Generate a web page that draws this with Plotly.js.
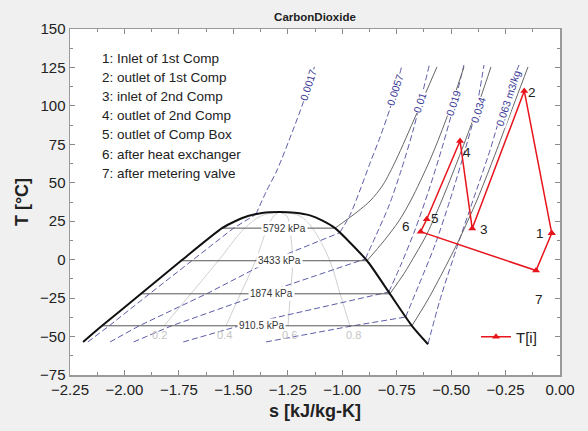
<!DOCTYPE html>
<html><head><meta charset="utf-8">
<script src="https://cdn.plot.ly/plotly-3.0.1.min.js"></script>
<style>html,body{margin:0;padding:0;background:#f0f0f0;}#chart{width:588px;height:431px;}</style>
</head><body><div id="chart"></div>
<script>
// ---- saturation dome ----
const domeS = [-2.190,-2.103,-1.924,-1.740,-1.552,-1.492,-1.433,-1.368,-1.290,-1.217,-1.148,-1.093,-1.033,-0.886,-0.781,-0.680,-0.606];
const domeT = [-53.5,-43.0,-22.2,-0.7,20.5,25.0,28.4,30.4,31.0,30.5,28.8,25.6,20.5,-0.7,-22.2,-43.0,-55.0];
// ---- isobars ----
const isobarNames = ['5792 kPa','3433 kPa','1874 kPa','910.5 kPa'];
const satT  = [20.5,-0.7,-22.2,-43.0];
const satSl = [-1.552,-1.740,-1.924,-2.103];
const satSv = [-1.033,-0.886,-0.781,-0.680];
const isobarLabelS = [-1.267,-1.290,-1.327,-1.370];
const p5792S = [-1.033,-0.987,-0.932,-0.872,-0.813,-0.753,-0.661,-0.565];
const p5792T = [20.5,25.2,31.0,38.2,48.6,64.8,94.1,125.3];
const p3433S = [-0.886,-0.808,-0.739,-0.684,-0.597,-0.524,-0.441];
const p3433T = [-0.7,12.3,25.3,38.8,64.8,90.8,125.3];
const p1874S = [-0.781,-0.717,-0.662,-0.611,-0.542,-0.469,-0.400,-0.317];
const p1874T = [-22.2,-9.2,3.8,16.7,38.8,64.8,90.8,125.3];
const p910S  = [-0.680,-0.607,-0.533,-0.464,-0.381,-0.308,-0.239,-0.147];
const p910T  = [-43.0,-26.1,-6.6,12.8,38.8,64.8,90.8,125.3];
// ---- isochores (m3/kg) ----
const isochoreNames = ['0.0017','0.0057','0.01','0.019','0.034','0.063 m3/kg'];
const v0017S = [-2.168,-2.070,-1.883,-1.688,-1.499,-1.396,-1.350,-1.299,-1.226,-1.180,-1.125];
const v0017T = [-53.5,-43.0,-22.0,-0.6,20.5,29.5,44.0,58.3,84.3,101.9,126.6];
const v0057S = [-2.066,-1.932,-1.620,-1.328,-1.012,-0.964,-0.918,-0.872,-0.826,-0.780,-0.725];
const v0057T = [-53.5,-43.0,-22.0,-0.6,17.5,29.1,45.3,62.9,79.8,98.6,126.6];
const v001S  = [-1.958,-1.783,-1.364,-0.894,-0.844,-0.784,-0.729,-0.674,-0.628,-0.600];
const v001T  = [-53.5,-43.0,-22.0,0.5,16.1,35.6,58.3,84.3,110.3,126.6];
const v0019S = [-1.730,-1.471,-0.786,-0.731,-0.666,-0.602,-0.538,-0.487,-0.441];
const v0019T = [-53.5,-43.0,-21.0,-3.5,19.3,45.3,74.5,100.5,126.6];
const v0034S = [-1.350,-0.951,-0.709,-0.648,-0.574,-0.505,-0.436,-0.386,-0.349];
const v0034T = [-53.5,-43.0,-37.3,-16.4,9.6,38.8,71.3,97.3,126.6];
const v0063S = [-0.606,-0.551,-0.477,-0.399,-0.321,-0.252,-0.188];
const v0063T = [-54.8,-26.1,6.4,38.8,71.3,103.8,126.6];
const isochoreKink = [5,4,3,2,2,0];
const isochoreLabelS = [-1.157,-0.758,-0.643,-0.490,-0.376,-0.238];
const isochoreLabelT = [113.6,110.3,102.5,101.9,97.3,105.1];
// ---- quality lines ----
const qualityNames = ['0.2','0.4','0.6','0.8'];
const qualityT = [-43.0,-22.2,-0.7,20.5,28.4,31.0];
const q02S = [-1.818,-1.695,-1.569,-1.448,-1.373,-1.290];
const q04S = [-1.534,-1.467,-1.398,-1.344,-1.314,-1.290];
const q06S = [-1.249,-1.238,-1.228,-1.241,-1.254,-1.290];
const q08S = [-0.965,-1.010,-1.057,-1.137,-1.195,-1.290];
const qualityLabelS = [-1.837,-1.539,-1.240,-0.950];
const qualityLabelT = -49.0;
// ---- cycle T[i] ----
const cycleS = [-0.038,-0.164,-0.403,-0.459,-0.612,-0.640,-0.110,-0.038];
const cycleT = [17.2,109.7,20.2,77.2,26.3,18.2,-7.1,17.2];
const pointLabels = ['1','2','3','4','5','6','7'];
const pointLabelS = [-0.092,-0.127,-0.349,-0.425,-0.574,-0.709,-0.096];
const pointLabelT = [16.7,109.0,19.3,70.0,27.0,21.3,-25.6];
const stateNotes = ['1: Inlet of 1st Comp','2: outlet of 1st Comp','3: inlet of 2nd Comp','4: outlet of 2nd Comp','5: outlet of Comp Box','6: after heat exchanger','7: after metering valve'];

const FONT = 'Liberation Sans, Arial, sans-serif';
const traces = [];
const qS = [q02S,q04S,q06S,q08S];
qS.forEach(s => traces.push({x:s, y:qualityT, mode:'lines', line:{color:'#d0d0d0', width:1, shape:'spline'}, showlegend:false, hoverinfo:'skip'}));

const vS = [v0017S,v0057S,v001S,v0019S,v0034S,v0063S];
const vT = [v0017T,v0057T,v001T,v0019T,v0034T,v0063T];
const isoColor = '#5c5ca8';
vS.forEach((s,i) => {
  const k = isochoreKink[i];
  if (k > 0) traces.push({x:s.slice(0,k+1), y:vT[i].slice(0,k+1), mode:'lines', line:{color:isoColor, width:1, dash:'6px,3px'}, showlegend:false, hoverinfo:'skip'});
  traces.push({x:s.slice(k), y:vT[i].slice(k), mode:'lines', line:{color:isoColor, width:1, dash:'6px,3px', shape:'spline', smoothing:0.8}, showlegend:false, hoverinfo:'skip'});
});

// horizontal two-phase isobar segments
const hx = [], hy = [];
satT.forEach((t,i) => { hx.push(satSl[i], satSv[i], null); hy.push(t, t, null); });
traces.push({x:hx, y:hy, mode:'lines', line:{color:'#555555', width:1}, showlegend:false, hoverinfo:'skip'});
[[p5792S,p5792T],[p3433S,p3433T],[p1874S,p1874T],[p910S,p910T]].forEach(p =>
  traces.push({x:p[0], y:p[1], mode:'lines', line:{color:'#666666', width:1, shape:'spline', smoothing:0.8}, showlegend:false, hoverinfo:'skip'}));

traces.push({x:domeS, y:domeT, mode:'lines', line:{color:'#111111', width:2, shape:'spline', smoothing:0.6}, showlegend:false, hoverinfo:'skip'});

traces.push({x:cycleS, y:cycleT, mode:'lines+markers', name:'T[i]',
  line:{color:'#e8141c', width:1.5}, marker:{symbol:'triangle-up', size:7, color:'#e8141c'}, showlegend:true});

const ann = [];
isobarNames.forEach((n,i) => ann.push({x:isobarLabelS[i], y:satT[i], text:n, showarrow:false, bgcolor:'#ffffff', borderpad:1,
  font:{family:FONT, size:10, color:'#333333'}}));
isochoreNames.forEach((n,i) => ann.push({x:isochoreLabelS[i], y:isochoreLabelT[i], text:n, showarrow:false, bgcolor:'#ffffff', borderpad:0,
  textangle:-72, font:{family:FONT, size:10.5, color:'#3a3a96'}}));
qualityNames.forEach((n,i) => ann.push({x:qualityLabelS[i], y:qualityLabelT, text:n, showarrow:false,
  font:{family:FONT, size:11, color:'#c4c4c4'}}));
pointLabels.forEach((n,i) => ann.push({x:pointLabelS[i], y:pointLabelT[i], text:n, showarrow:false,
  font:{family:FONT, size:13.5, color:'#222222'}}));
const noteY = [58,78,96,115,134,154,173];
stateNotes.forEach((n,i) => ann.push({xref:'paper', yref:'paper', x:(100-70)/490, y:(375-noteY[i])/346, xanchor:'left', yanchor:'middle',
  text:n, showarrow:false, font:{family:FONT, size:13.5, color:'#222222'}}));

const axisCommon = {showgrid:false, zeroline:false, showline:true, linecolor:'#9a9a9a', linewidth:1.5, mirror:'ticks',
  ticks:'inside', ticklen:5, tickcolor:'#8a8a8a', tickfont:{family:FONT, size:15, color:'#222222'}};

const layout = {
  width:588, height:431,
  margin:{l:70, r:28, t:29, b:56, pad:0},
  paper_bgcolor:'#f0f0f0', plot_bgcolor:'#ffffff',
  font:{family:FONT},
  title:{text:'<b>CarbonDioxide</b>', font:{family:FONT, size:11.5, color:'#222222'}, x:0.5, xref:'paper', y:1-17/431, yanchor:'middle'},
  xaxis:Object.assign({}, axisCommon, {range:[-2.25,0], dtick:0.25, tick0:0, tickformat:'.2f',
    minor:{ticks:'inside', dtick:0.125, ticklen:3, tickcolor:'#8a8a8a'},
    title:{text:'<b>s [kJ/kg-K]</b>', font:{family:FONT, size:18, color:'#222222'}, standoff:8}}),
  yaxis:Object.assign({}, axisCommon, {range:[-75,150], dtick:25, tick0:0,
    minor:{ticks:'inside', dtick:12.5, ticklen:3, tickcolor:'#8a8a8a'},
    title:{text:'<b>T [°C]</b>', font:{family:FONT, size:18, color:'#222222'}, standoff:6}}),
  showlegend:true,
  legend:{x:(476-70)/490, y:(375-337)/346, xanchor:'left', yanchor:'middle', bgcolor:'rgba(0,0,0,0)',
    font:{family:FONT, size:15, color:'#222222'}},
  annotations:ann
};
Plotly.newPlot('chart', traces, layout, {displayModeBar:false, staticPlot:true});
</script></body></html>
